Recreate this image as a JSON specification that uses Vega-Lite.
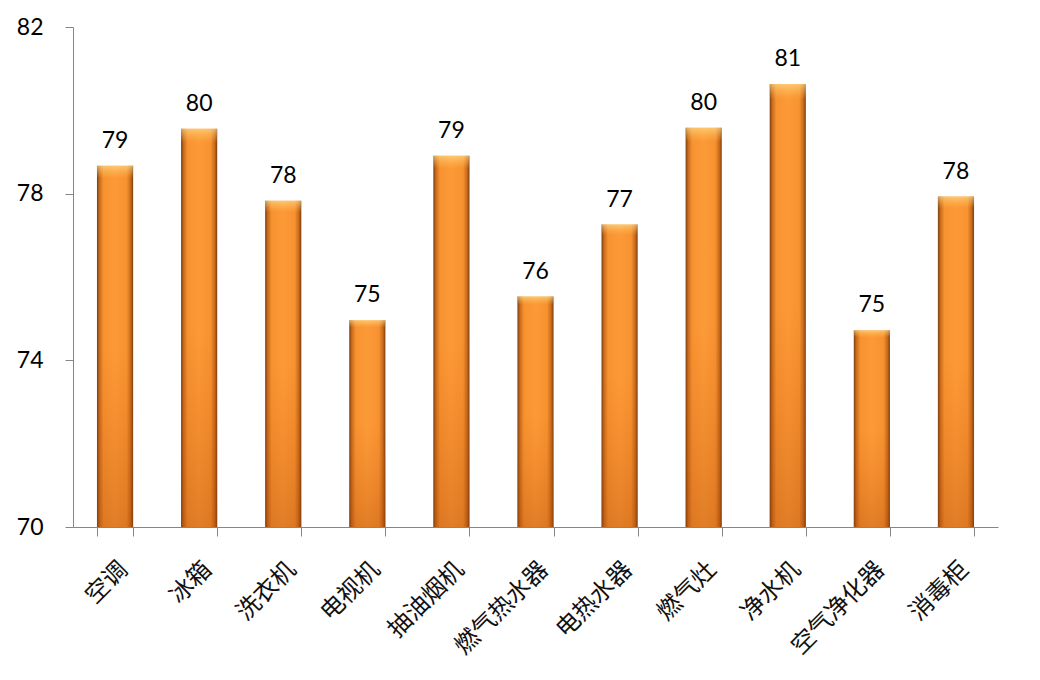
{
  "$schema": "https://vega.github.io/schema/vega-lite/v6.json",
  "autosize": {"type": "none"},
  "padding": {"left": 73, "top": 27, "right": 42, "bottom": 153},
  "width": 925,
  "height": 500,
  "background": "white",
  "config": {"view": {"stroke": null}},
  "data": {"values": [
    {"cat": "空调", "v": 78.67},
    {"cat": "冰箱", "v": 79.56},
    {"cat": "洗衣机", "v": 77.83},
    {"cat": "电视机", "v": 74.96},
    {"cat": "抽油烟机", "v": 78.91},
    {"cat": "燃气热水器", "v": 75.53},
    {"cat": "电热水器", "v": 77.26},
    {"cat": "燃气灶", "v": 79.58},
    {"cat": "净水机", "v": 80.63},
    {"cat": "空气净化器", "v": 74.72},
    {"cat": "消毒柜", "v": 77.93}
  ]},
  "encoding": {
    "x": {"field": "cat", "type": "nominal", "sort": null,
      "scale": {"paddingInner": 0.57, "paddingOuter": 0.285},
      "axis": {"title": null, "labelAngle": -45, "labelFont": "Noto Sans CJK SC", "labelFontSize": 24, "labelColor": "#111", "tickBand": "extent", "tickSize": 9, "tickColor": "#868686", "domainColor": "#868686", "labelPadding": 21}},
    "y": {"field": "v", "type": "quantitative",
      "scale": {"domain": [70, 82], "zero": false, "nice": false},
      "axis": {"title": null, "values": [70, 74, 78, 82], "grid": false, "tickSize": 8, "tickColor": "#868686", "domainColor": "#868686", "labelFont": "Lato", "labelFontSize": 23, "labelColor": "#000", "labelPadding": 22}}
  },
  "layer": [
    {"mark": {"type": "bar", "color": {"gradient": "linear", "x1": 0, "x2": 1, "y1": 0, "y2": 0, "stops": [
      {"offset": 0, "color": "#7a3f10"},
      {"offset": 0.07, "color": "#c96a1c"},
      {"offset": 0.18, "color": "#f79230"},
      {"offset": 0.5, "color": "#fd9a38"},
      {"offset": 0.82, "color": "#f79230"},
      {"offset": 0.93, "color": "#c96a1c"},
      {"offset": 1, "color": "#7a3f10"}]}},
     "encoding": {"y2": {"datum": 70}}},
    {"mark": {"type": "bar", "color": {"gradient": "linear", "x1": 0, "x2": 0, "y1": 0, "y2": 1, "stops": [
      {"offset": 0, "color": "rgba(255,230,150,0.6)"},
      {"offset": 0.035, "color": "rgba(255,200,100,0.0)"},
      {"offset": 0.5, "color": "rgba(200,80,0,0.0)"},
      {"offset": 1, "color": "rgba(160,60,0,0.3)"}]}},
     "encoding": {"y2": {"datum": 70}}},
    {"mark": {"type": "text", "dy": -18, "baseline": "alphabetic", "font": "Lato", "fontSize": 23, "color": "#000"},
     "encoding": {"text": {"field": "v", "type": "quantitative", "format": ".0f"}}}
  ]
}
